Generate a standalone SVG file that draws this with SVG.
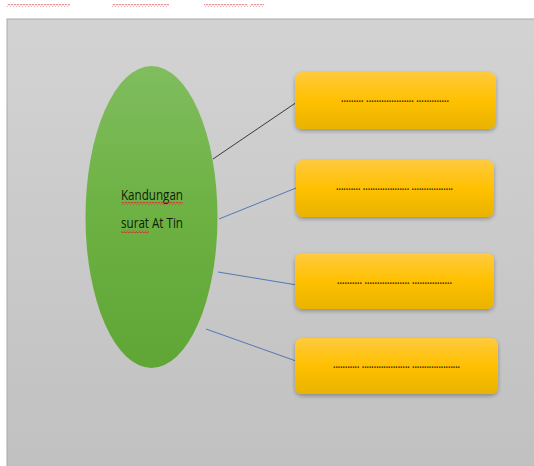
<svg xmlns="http://www.w3.org/2000/svg" width="534" height="466" viewBox="0 0 534 466">
<defs>
<linearGradient id="bg" x1="0" y1="0" x2="0" y2="1">
<stop offset="0" stop-color="#d3d3d3"/>
<stop offset="1" stop-color="#c0c0c0"/>
</linearGradient>
<linearGradient id="green" x1="0" y1="0" x2="0" y2="1">
<stop offset="0" stop-color="#80bd5e"/>
<stop offset="0.5" stop-color="#6cb142"/>
<stop offset="1" stop-color="#5fa636"/>
</linearGradient>
<linearGradient id="yellow" x1="0" y1="0" x2="0" y2="1">
<stop offset="0" stop-color="#ffca3f"/>
<stop offset="0.5" stop-color="#ffc000"/>
<stop offset="1" stop-color="#e9b300"/>
</linearGradient>
<filter id="shadow" x="-10%" y="-20%" width="120%" height="150%">
<feGaussianBlur in="SourceAlpha" stdDeviation="2"/>
<feOffset dx="0" dy="1.5" result="b"/>
<feComponentTransfer><feFuncA type="linear" slope="0.3"/></feComponentTransfer>
<feMerge><feMergeNode/><feMergeNode in="SourceGraphic"/></feMerge>
</filter>
<pattern id="wave" width="3" height="3" patternUnits="userSpaceOnUse">
<path d="M0,2.2 L1.5,0.8 L3,2.2" fill="none" stroke="#d8202c" stroke-width="0.9"/>
</pattern>
<pattern id="wavePale" width="3" height="3" patternUnits="userSpaceOnUse">
<path d="M0,2.2 L1.5,0.8 L3,2.2" fill="none" stroke="#e26a74" stroke-width="0.9"/>
</pattern>
</defs>
<style>
.box{fill:url(#yellow);filter:url(#shadow);}
.dots{font-family:"Liberation Sans",Arial,sans-serif;font-size:10px;font-weight:bold;fill:#3d3306;}
.lbl{font-family:"Open Sans","Liberation Sans",sans-serif;font-size:15px;fill:#0f1c08;}
.blue{stroke:#5577b5;stroke-width:1;fill:none;}
</style>
<rect x="0" y="0" width="534" height="466" fill="#ffffff"/>
<g id="top-squiggles">
<rect x="7" y="4" width="63" height="3" fill="url(#wavePale)"/>
<rect x="112" y="4" width="57" height="3" fill="url(#wavePale)"/>
<rect x="204" y="4" width="44" height="3" fill="url(#wavePale)"/>
<rect x="250" y="4" width="14" height="3" fill="url(#wavePale)"/>
</g>
<rect id="panel" x="7" y="19" width="540" height="460" fill="url(#bg)" stroke="#a9a9a9" stroke-width="1"/>
<g id="connectors">
<line x1="213" y1="159" x2="297" y2="102" stroke="#3a3a3a" stroke-width="1"/>
<line class="blue" x1="219" y1="219" x2="296" y2="188"/>
<line class="blue" x1="218" y1="272" x2="297" y2="285"/>
<line class="blue" x1="206" y1="329" x2="296" y2="361"/>
</g>
<g id="center">
<ellipse cx="151.5" cy="217" rx="66" ry="151" fill="url(#green)"/>
<text class="lbl" x="121" y="200" textLength="62" lengthAdjust="spacingAndGlyphs">Kandungan</text>
<rect x="121" y="202" width="62" height="3" fill="url(#wave)"/>
<text class="lbl" x="121" y="228" textLength="62" lengthAdjust="spacingAndGlyphs">surat At Tin</text>
<rect x="121" y="230" width="28" height="3" fill="url(#wave)"/>
</g>
<g id="box1">
<rect class="box" x="295" y="72" width="201" height="57" rx="7"/>
<text class="dots" x="341" y="102" textLength="108" lengthAdjust="spacingAndGlyphs">......... ................... .............</text>
</g>
<g id="box2">
<rect class="box" x="296" y="160" width="198" height="57" rx="7"/>
<text class="dots" x="336" y="190" textLength="117" lengthAdjust="spacingAndGlyphs">.......... ................... .................</text>
</g>
<g id="box3">
<rect class="box" x="295" y="253" width="199" height="56" rx="7"/>
<text class="dots" x="337" y="284" textLength="115" lengthAdjust="spacingAndGlyphs">.......... .................. ................</text>
</g>
<g id="box4">
<rect class="box" x="295" y="338" width="203" height="56" rx="7"/>
<text class="dots" x="333" y="368" textLength="127" lengthAdjust="spacingAndGlyphs">........... .................... ....................</text>
</g>
</svg>
